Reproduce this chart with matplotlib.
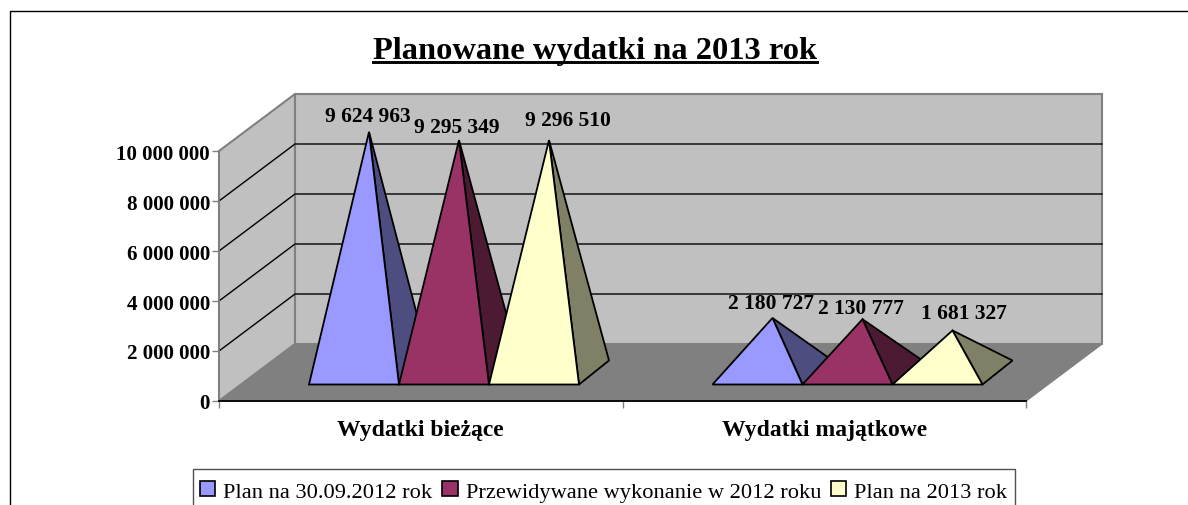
import matplotlib
matplotlib.use('Agg')
import matplotlib.pyplot as plt
from matplotlib.patches import Polygon, Patch, Rectangle
from matplotlib.ticker import FuncFormatter

# ── Data ─────────────────────────────────────────────────────
categories = ['Wydatki bieżące', 'Wydatki majątkowe']
series_names = ['Plan na 30.09.2012 rok', 'Przewidywane wykonanie w 2012 roku', 'Plan na 2013 rok']
plan_2012 = [9624963, 2180727]
forecast_2012 = [9295349, 2130777]
plan_2013 = [9296510, 1681327]
y_ticks = [0, 2000000, 4000000, 6000000, 8000000, 10000000]

# front, side colours per series
front_colors = ['#9999FF', '#993366', '#FFFFCC']
side_colors = ['#4D4D80', '#4D1A33', '#808066']

# hand placed data labels, pixels from the apex: [series][category]
label_dx = [[-1, -1], [-2, -2], [19, 11]]
label_dy = [[16, 15], [13, 11], [20, 17]]

W, H = 1188, 506
plt.rcParams['font.family'] = ['Liberation Serif', 'DejaVu Serif']

fig = plt.figure(figsize=(W / 100, H / 100), dpi=100, facecolor='white')

# axes box is the front plane of the 3D chart
L, R, T, B = 219, 1026, 152, 402
ax = fig.add_axes([L / W, 1 - B / H, (R - L) / W, (B - T) / H])
ax.set_xlim(0, 2)
ax.set_ylim(0, 10000000)
ax.patch.set_visible(False)

px_x = 2 / (R - L)            # data units per pixel
px_y = 10000000 / (B - T)
depth_x, depth_y = 76 * px_x, 57 * px_y   # depth of the floor
bar_w = 90 * px_x
bar_dx, bar_dy = 30 * px_x, 24 * px_y     # depth of a pyramid base
lift_y = 16.5 * px_y


def poly(points, fc, ec='black', lw=1.3, z=2):
    ax.add_patch(Polygon(points, closed=True, facecolor=fc, edgecolor=ec,
                         linewidth=lw, zorder=z, clip_on=False, joinstyle='miter'))


# ── Walls and floor ──────────────────────────────────────────
top = y_ticks[-1]
poly([(0, 0), (depth_x, depth_y), (depth_x, top + depth_y), (0, top)], '#C0C0C0', '#808080', 1.5, 1)
poly([(depth_x, depth_y), (2 + depth_x, depth_y), (2 + depth_x, top + depth_y), (depth_x, top + depth_y)],
     '#C0C0C0', '#808080', 1.5, 1)
poly([(0, 0), (2, 0), (2 + depth_x, depth_y), (depth_x, depth_y)], '#808080', '#808080', 1, 1)

for t in y_ticks[1:-1]:
    ax.plot([0, depth_x, 2 + depth_x], [t, t + depth_y, t + depth_y], color='black', lw=1, zorder=1.5, clip_on=False)

# ── Pyramids ─────────────────────────────────────────────────
all_series = [plan_2012, forecast_2012, plan_2013]
for c in range(len(categories)):
    for s, values in enumerate(all_series):
        x0 = c + bar_w + s * bar_w
        y0 = lift_y
        x1 = x0 + bar_w
        apex = (x0 + bar_w / 2 + bar_dx / 2, y0 + bar_dy / 2 + values[c])
        poly([(x1, y0), (x1 + bar_dx, y0 + bar_dy), apex], side_colors[s], z=2 + s * 0.1)
        poly([(x0, y0), (x1, y0), apex], front_colors[s], z=2.05 + s * 0.1)
        ax.text(apex[0] + label_dx[s][c] * px_x, apex[1] + label_dy[s][c] * px_y,
                f'{values[c]:,}'.replace(',', ' '),
                ha='center', va='center', fontsize=15.5, fontweight='bold', zorder=5)

# ── Axes ─────────────────────────────────────────────────────
ax.set_yticks(y_ticks)
ax.yaxis.set_major_formatter(FuncFormatter(lambda v, p: f'{int(v):,}'.replace(',', ' ')))
ax.set_xticks([0, 1, 2])
ax.set_xticklabels([])
ax.tick_params(axis='y', length=5, width=1, color='#808080', pad=1.5, labelsize=15.1)
ax.tick_params(axis='x', length=5, width=1, color='#808080')
for lab in ax.get_yticklabels():
    lab.set_fontweight('bold')
for sp in ['top', 'right']:
    ax.spines[sp].set_visible(False)
ax.spines['left'].set_color('#808080')
ax.spines['left'].set_linewidth(1.2)
ax.spines['bottom'].set_color('black')
ax.spines['bottom'].set_linewidth(1.3)
ax.spines['bottom'].set_zorder(4)

for c, name in enumerate(categories):
    ax.text(c + 0.5, -29 * px_y, name, ha='center', va='center', fontsize=17, fontweight='bold')

# ── Title, border, legend ────────────────────────────────────
fig.text(595 / W, 1 - 51 / H, 'Planowane wydatki na 2013 rok', ha='center', va='center',
         fontsize=23.4, fontweight='bold')
fig.add_artist(plt.Line2D([373 / W, 817 / W], [1 - 62.5 / H] * 2, color='black', lw=2.1))

# chart border is cut off on the right and the bottom
fig.add_artist(plt.Line2D([9.5 / W, 9.5 / W, 1], [0, 1 - 11.5 / H, 1 - 11.5 / H], color='black', lw=1))

# legend frame runs off the bottom of the image, so it is drawn separately
fig.add_artist(Rectangle((193 / W, -0.02), (1015 - 193) / W, 1 - 469.5 / H + 0.02, transform=fig.transFigure,
                         facecolor='white', edgecolor='#505050', linewidth=1))
handles = [Patch(facecolor=c, edgecolor='black', linewidth=1.2) for c in front_colors]
leg = fig.legend(handles, series_names, ncol=3, loc='upper left',
                 bbox_to_anchor=(200 / W, 1 - 482 / H), fontsize=16.1, frameon=False,
                 handlelength=0.68, handleheight=0.68, handletextpad=0.36,
                 columnspacing=0.45, borderpad=0, borderaxespad=0)

fig.savefig('out.png', dpi=100)
